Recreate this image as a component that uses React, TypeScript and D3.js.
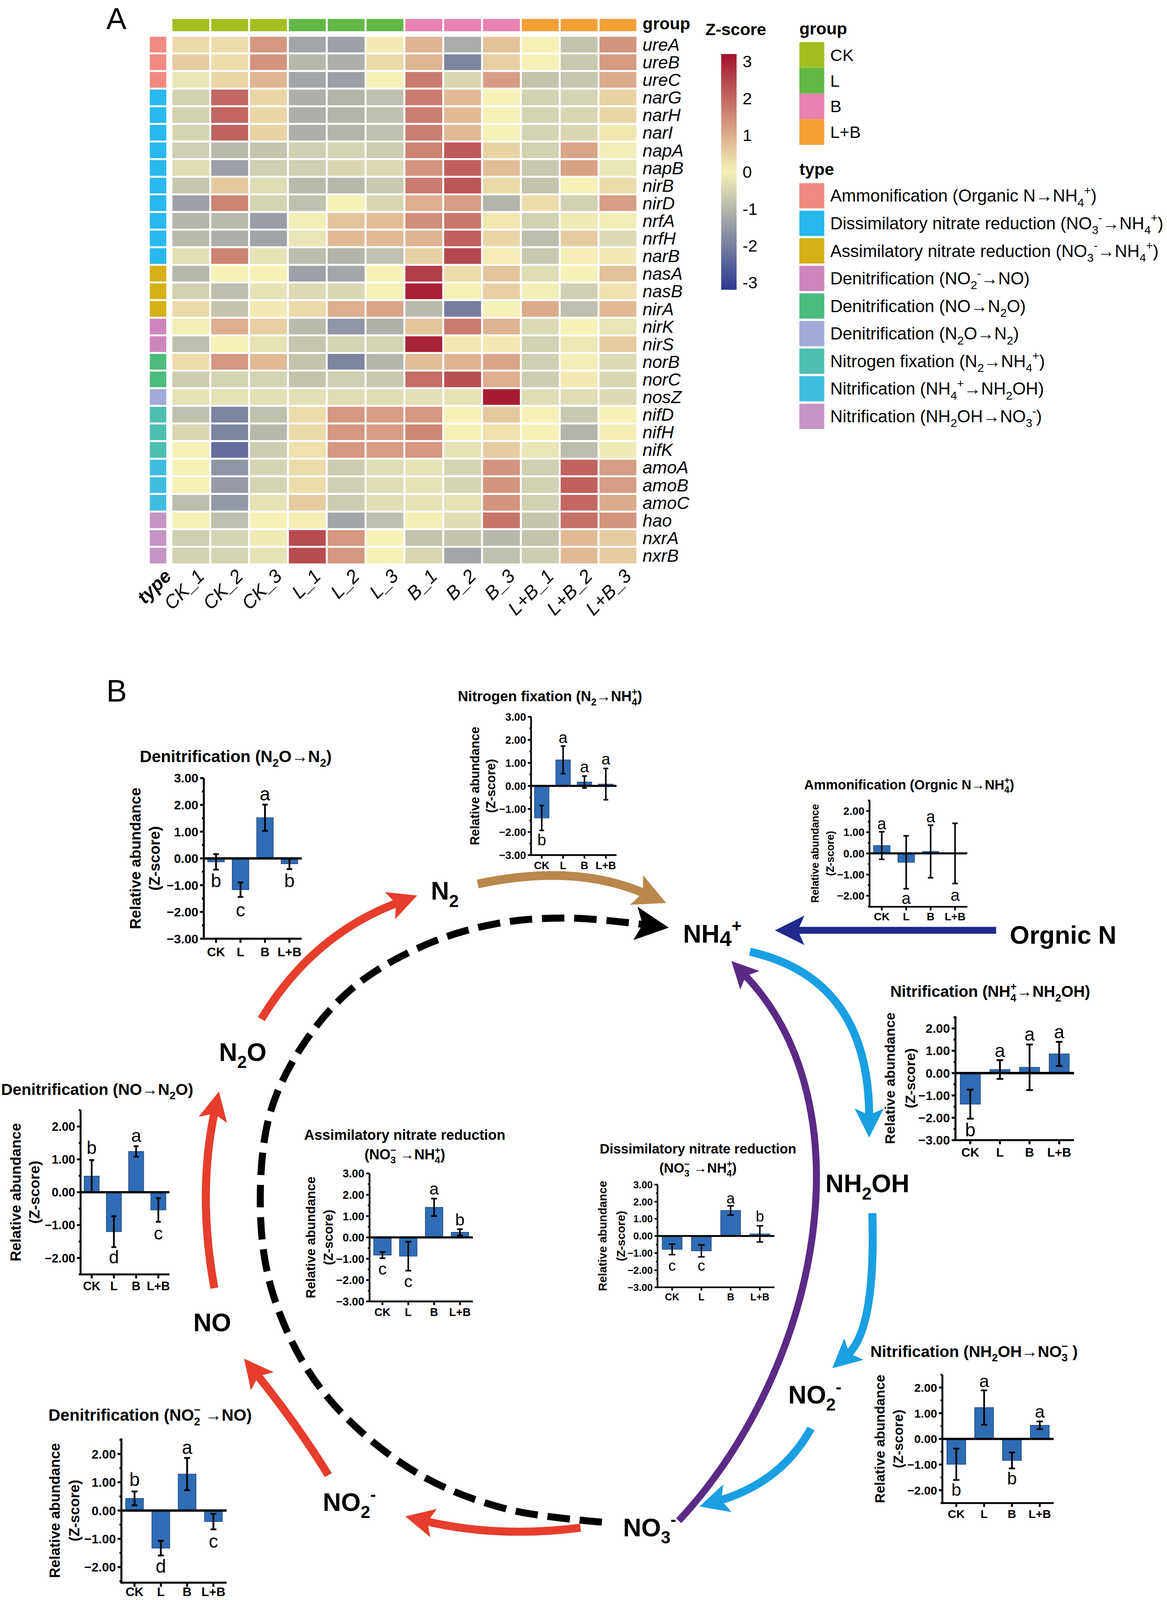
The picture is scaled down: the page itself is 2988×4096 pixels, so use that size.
import React from 'react';
import * as d3 from 'd3';

const FONT = "'Liberation Sans', Arial, Helvetica, sans-serif";

type Seg = [string, string?];

// ---------------- heatmap (panel A) ----------------
const samples = ['CK_1', 'CK_2', 'CK_3', 'L_1', 'L_2', 'L_3', 'B_1', 'B_2', 'B_3', 'L+B_1', 'L+B_2', 'L+B_3'];
const sampleGroup = [0, 0, 0, 1, 1, 1, 2, 2, 2, 3, 3, 3];
const groupNames = ['CK', 'L', 'B', 'L+B'];
const groupColors = ['#a3bf1f', '#62b845', '#e882b0', '#f4a037'];
const genes = ['ureA', 'ureB', 'ureC', 'narG', 'narH', 'narI', 'napA', 'napB', 'nirB', 'nirD', 'nrfA', 'nrfH', 'narB',
  'nasA', 'nasB', 'nirA', 'nirK', 'nirS', 'norB', 'norC', 'nosZ', 'nifD', 'nifH', 'nifK', 'amoA', 'amoB', 'amoC',
  'hao', 'nxrA', 'nxrB'];
const geneType = [0, 0, 0, 1, 1, 1, 1, 1, 1, 1, 1, 1, 1, 2, 2, 2, 3, 3, 4, 4, 5, 6, 6, 6, 7, 7, 7, 8, 8, 8];
const typeColors = ['#f08a80', '#27b8ec', '#d4b117', '#cc86bd', '#4dbb7b', '#a2a9d6', '#4dbfb1', '#40bee0', '#c594c5'];
const typeLabels: Seg[][] = [
  [['Ammonification (Organic N\u2192NH'], ['4', 'sub'], ['+', 'sup'], [')']],
  [['Dissimilatory nitrate reduction (NO'], ['3', 'sub'], ['-', 'sup'], ['\u2192NH'], ['4', 'sub'], ['+', 'sup'], [')']],
  [['Assimilatory nitrate reduction (NO'], ['3', 'sub'], ['-', 'sup'], ['\u2192NH'], ['4', 'sub'], ['+', 'sup'], [')']],
  [['Denitrification (NO'], ['2', 'sub'], ['-', 'sup'], ['\u2192NO)']],
  [['Denitrification (NO\u2192N'], ['2', 'sub'], ['O)']],
  [['Denitrification (N'], ['2', 'sub'], ['O\u2192N'], ['2', 'sub'], [')']],
  [['Nitrogen fixation (N'], ['2', 'sub'], ['\u2192NH'], ['4', 'sub'], ['+', 'sup'], [')']],
  [['Nitrification (NH'], ['4', 'sub'], ['+', 'sup'], ['\u2192NH'], ['2', 'sub'], ['OH)']],
  [['Nitrification (NH'], ['2', 'sub'], ['OH\u2192NO'], ['3', 'sub'], ['-', 'sup'], [')']],
];
// rows = genes, columns = samples
const zScore = [
  [0.35, 0.3, 1.3, -1.3, -1.4, 0.1, 0.9, -1.2, 0.7, 0.0, -0.8, 1.35],
  [0.55, 0.3, 1.35, -1.0, -1.15, 0.35, 0.85, -1.9, 0.5, 0.0, -0.7, 1.25],
  [-0.2, 0.4, 0.85, -1.3, -1.4, 0.0, 1.7, -0.45, 1.2, -0.8, -0.75, 1.0],
  [-0.55, 2.0, 0.4, -1.15, -1.05, -0.85, 1.7, 0.8, 0.0, -0.55, -0.5, 0.45],
  [-0.55, 2.0, 0.4, -1.15, -1.05, -0.85, 1.65, 0.8, 0.0, -0.5, -0.45, 0.4],
  [-0.5, 2.05, 0.45, -1.15, -1.05, -0.85, 1.65, 0.8, 0.0, -0.5, -0.45, 0.15],
  [-0.6, -0.95, -0.8, -0.6, -0.5, -0.65, 1.6, 2.2, 0.45, -0.55, 1.1, -0.05],
  [-0.35, -1.4, -0.6, -0.6, -0.45, -0.4, 1.35, 2.1, 0.75, -0.7, 1.15, -0.2],
  [-0.75, 0.6, -0.35, -0.95, -1.0, -0.7, 1.7, 2.25, 0.35, -0.8, 0.0, 0.3],
  [-1.4, 1.6, -0.5, -0.85, 0.0, -0.45, 0.95, 1.2, -1.05, 0.3, -0.55, 1.2],
  [-1.05, -0.95, -1.45, -0.05, 0.65, 0.75, 1.45, 1.75, 0.15, -0.55, -0.1, -0.05],
  [-0.95, -1.15, -1.35, -0.2, 0.8, 0.8, 0.9, 2.1, 0.4, -0.9, 0.55, -0.4],
  [-0.3, 1.6, -0.25, -0.9, -1.05, -0.85, 0.45, 2.45, 0.05, -0.7, 0.05, 0.1],
  [-1.0, 0.0, 0.0, -1.4, -1.3, 0.0, 2.6, 0.3, 0.65, -0.35, 0.0, 0.7],
  [-0.55, -0.9, -0.25, -0.4, -0.45, 0.0, 3.0, 0.0, 0.5, -0.05, -0.6, 0.25],
  [0.35, -0.8, 0.1, 0.35, 0.95, 1.1, -0.95, -2.0, 0.0, 1.0, -0.85, 0.8],
  [-0.05, 0.95, 0.5, -0.95, -1.6, -1.1, 0.65, 1.7, 0.9, -0.4, 0.0, -0.2],
  [-0.85, 0.0, -0.25, -0.75, -0.5, -0.5, 3.0, 0.1, 0.1, -0.55, -0.15, 0.55],
  [0.3, 1.3, 0.8, -0.8, -1.9, -1.05, 0.75, 0.9, 1.1, -0.6, -0.05, -0.4],
  [-0.65, -0.5, -0.5, -0.8, -0.6, -0.7, 1.9, 2.35, 0.95, -0.65, 0.1, -0.45],
  [-0.25, -0.25, -0.3, -0.3, -0.35, -0.35, -0.3, -0.25, 3.1, -0.35, -0.35, -0.4],
  [-0.85, -1.9, -0.85, 0.3, 1.3, 1.2, 1.3, 0.0, 0.6, 0.0, -0.7, 0.0],
  [-0.45, -1.9, -1.0, 0.35, 1.3, 1.2, 1.55, 0.0, 0.25, 0.0, -1.05, 0.05],
  [0.0, -2.3, -0.65, 0.25, 1.3, 1.2, 1.3, -0.25, 0.55, -0.2, -0.9, -0.1],
  [0.0, -1.6, -0.5, 0.3, -0.65, -0.35, -0.25, -0.5, 1.35, -0.6, 2.05, 1.2],
  [0.0, -1.5, -0.5, 0.3, -0.6, -0.35, -0.25, -0.5, 1.35, -0.55, 2.1, 1.2],
  [-0.9, -1.55, -0.25, 0.55, -0.65, -0.35, -0.25, -0.25, 1.35, -0.55, 2.0, 1.0],
  [0.0, -0.85, 0.0, 0.05, -1.3, -0.85, -0.05, -0.35, 1.8, -0.75, 1.85, 1.35],
  [-0.6, -0.5, -0.1, 2.4, 1.3, 0.0, -0.8, -0.8, -1.0, -0.8, 0.8, 0.55],
  [-0.55, -0.5, -0.25, 2.4, 1.3, 0.0, -0.45, -1.3, -0.85, -0.65, 0.8, 0.55],
];
const zTicks = [3, 2, 1, 0, -1, -2, -3];

// ---------------- bar charts (panel B) ----------------
const treatments = ['CK', 'L', 'B', 'L+B'];

const n2oMean = [-0.13, -1.17, 1.52, -0.2];
const n2oErr = [0.29, 0.27, 0.49, 0.2];
const n2oLetters = ['b', 'c', 'a', 'b'];
const n2oLetterAt = [-0.86, -1.95, 2.38, -0.86];

const nfixMean = [-1.39, 1.13, 0.17, 0.08];
const nfixErr = [0.54, 0.6, 0.26, 0.68];
const nfixLetters = ['b', 'a', 'a', 'a'];
const nfixLetterAt = [-2.36, 2.07, 0.8, 1.14];

const ammoMean = [0.37, -0.42, 0.09, 0.0];
const ammoErr = [0.65, 1.25, 1.24, 1.42];
const ammoLetters = ['a', 'a', 'a', 'a'];
const ammoLetterAt = [1.37, -2.16, 1.7, -2.0];

const nitAMean = [-1.39, 0.16, 0.26, 0.86];
const nitAErr = [0.65, 0.42, 1.02, 0.54];
const nitALetters = ['b', 'a', 'a', 'a'];
const nitALetterAt = [-2.57, 0.97, 1.7, 1.81];

const noMean = [0.49, -1.2, 1.24, -0.54];
const noErr = [0.49, 0.47, 0.16, 0.36];
const noLetters = ['b', 'd', 'a', 'c'];
const noLetterAt = [1.33, -2.0, 1.7, -1.27];

const assimMean = [-0.83, -0.88, 1.41, 0.24];
const assimErr = [0.145, 0.68, 0.41, 0.145];
const assimLetters = ['c', 'c', 'a', 'b'];
const assimLetterAt = [-1.51, -2.09, 2.24, 0.8];

const dissimMean = [-0.78, -0.87, 1.49, 0.12];
const dissimErr = [0.31, 0.35, 0.27, 0.47];
const dissimLetters = ['c', 'c', 'a', 'b'];
const dissimLetterAt = [-1.77, -1.77, 2.17, 1.12];

const nitBMean = [-0.99, 1.22, -0.84, 0.53];
const nitBErr = [0.61, 0.67, 0.31, 0.15];
const nitBLetters = ['b', 'a', 'b', 'a'];
const nitBLetterAt = [-2.0, 2.22, -1.56, 1.04];

const no2Mean = [0.43, -1.33, 1.29, -0.39];
const no2Err = [0.245, 0.26, 0.57, 0.275];
const no2Letters = ['b', 'd', 'a', 'c'];
const no2LetterAt = [1.07, -2.0, 2.2, -1.12];

// rich text: sub / sup / stk (superscript stacked over preceding subscript) / lsub (large subscript)
function spans(segs: Seg[], size: number) {
  let shift = 0;
  return segs.map(([t, k], i) => {
    const target = k === 'sub' ? size * 0.28 : k === 'lsub' ? size * 0.14 : k ? -size * 0.42 : 0;
    const dy = target - shift;
    shift = target;
    const fs = k === 'lsub' ? size * 0.86 : k ? size * 0.68 : size;
    const dx = k === 'stk' ? -size * 0.68 * 0.556 : 0;
    return <tspan key={i} dy={dy} dx={dx} fontSize={fs}>{t}</tspan>;
  });
}

const panels = [
  { key: 'n2o', mean: n2oMean, err: n2oErr, letters: n2oLetters, letterAt: n2oLetterAt,
    title: [[['Denitrification (N'], ['2', 'sub'], ['O\u2192N'], ['2', 'sub'], [')']]],
    tx: 672, ty: [2173], tSize: 47, ax: 581, xEnd: 860, y0: 2447, unit: 76.3, yMin: -3, yMax: 3,
    tick: 35.6, yt: 43, ytOff: [-196, -141], labOff: 1.4 },
  { key: 'nfix', mean: nfixMean, err: nfixErr, letters: nfixLetters, letterAt: nfixLetterAt,
    title: [[['Nitrogen fixation (N'], ['2', 'sub'], ['\u2192NH'], ['4', 'sub'], ['+', 'stk'], [')']]],
    tx: 1568, ty: [1999], tSize: 41, ax: 1514, xEnd: 1757.6, y0: 2240.4, unit: 65.7, yMin: -3, yMax: 3,
    tick: 30.5, yt: 36, ytOff: [-161, -115], labOff: 1.32 },
  { key: 'ammo', mean: ammoMean, err: ammoErr, letters: ammoLetters, letterAt: ammoLetterAt,
    title: [[['Ammonification (Orgnic N\u2192NH'], ['4', 'sub'], ['+', 'stk'], [')']]],
    tx: 2592, ty: [2250], tSize: 38.5, ax: 2479, xEnd: 2757.7, y0: 2432.7, unit: 60.4, yMin: -2.52, yMax: 2.52,
    tick: 31, yt: 30, ytOff: [-156, -112], labOff: 1.25 },
  { key: 'nitA', mean: nitAMean, err: nitAErr, letters: nitALetters, letterAt: nitALetterAt,
    title: [[['Nitrification (NH'], ['4', 'sub'], ['+', 'stk'], ['\u2192NH'], ['2', 'sub'], ['OH)']]],
    tx: 2823, ty: [2842], tSize: 45, ax: 2724, xEnd: 3062, y0: 3059, unit: 63.7, yMin: -3, yMax: 2.54,
    tick: 35.7, yt: 40, ytOff: [-187, -130], labOff: 1.32 },
  { key: 'no', mean: noMean, err: noErr, letters: noLetters, letterAt: noLetterAt,
    title: [[['Denitrification (NO\u2192N'], ['2', 'sub'], ['O)']]],
    tx: 277, ty: [3121], tSize: 45.5, ax: 229.6, xEnd: 483, y0: 3398.6, unit: 93.7, yMin: -2.5, yMax: 2.5,
    tick: 34.4, yt: 42, ytOff: [-186, -132], labOff: 1.3 },
  { key: 'assim', mean: assimMean, err: assimErr, letters: assimLetters, letterAt: assimLetterAt,
    title: [[['Assimilatory nitrate reduction']],
      [['(NO'], ['3', 'sub'], ['\u2212', 'stk'], [' \u2192NH'], ['4', 'sub'], ['+', 'stk'], [')']]],
    tx: 1154, ty: [3249, 3305], tSize: 40.5, ax: 1053.5, xEnd: 1348, y0: 3527.4, unit: 60.8, yMin: -3, yMax: 3,
    tick: 32, yt: 37, ytOff: [-168, -118], labOff: 1.3 },
  { key: 'dissim', mean: dissimMean, err: dissimErr, letters: dissimLetters, letterAt: dissimLetterAt,
    title: [[['Dissimilatory nitrate reduction']],
      [['(NO'], ['3', 'sub'], ['\u2212', 'stk'], [' \u2192NH'], ['4', 'sub'], ['+', 'stk'], [')']]],
    tx: 1990, ty: [3288, 3343], tSize: 38.8, ax: 1874.5, xEnd: 2208, y0: 3523.3, unit: 48.8, yMin: -3, yMax: 3,
    tick: 28.5, yt: 33.5, ytOff: [-157, -105], labOff: 1.3 },
  { key: 'nitB', mean: nitBMean, err: nitBErr, letters: nitBLetters, letterAt: nitBLetterAt,
    title: [[['Nitrification (NH'], ['2', 'sub'], ['OH\u2192NO'], ['3', 'sub'], ['\u2212', 'stk'], [' )']]],
    tx: 2777, ty: [3868], tSize: 45.5, ax: 2686.7, xEnd: 3004, y0: 4101.7, unit: 73.2, yMin: -2.5, yMax: 2.5,
    tick: 33.5, yt: 39, ytOff: [-179, -126], labOff: 1.28 },
  { key: 'no2', mean: no2Mean, err: no2Err, letters: no2Letters, letterAt: no2LetterAt,
    title: [[['Denitrification (NO'], ['2', 'sub'], ['\u2212', 'stk'], [' \u2192NO)']]],
    tx: 428, ty: [4050], tSize: 47, ax: 346, xEnd: 645.8, y0: 4306, unit: 80.6, yMin: -2.55, yMax: 2.55,
    tick: 35.6, yt: 41, ytOff: [-190, -135], labOff: 1.08 },
];

function BarPanel({ p }: { p: any }) {
  const x = d3.scaleBand().domain(treatments).range([p.ax, p.xEnd]).paddingInner(0.32).paddingOuter(0.16);
  const y = d3.scaleLinear().domain([0, 1]).range([p.y0, p.y0 - p.unit]);
  const sw = p.tick * 0.16;
  const majors = d3.range(Math.ceil(p.yMin - 1e-6), Math.floor(p.yMax + 1e-6) + 1);
  const minors = d3.range(Math.ceil(p.yMin * 2 - 1e-6), Math.floor(p.yMax * 2 + 1e-6) + 1)
    .map((v) => v / 2).filter((v) => v % 1 !== 0);
  const tl = p.tick * 0.3;
  const mid = (y(p.yMin) + y(p.yMax)) / 2;
  const bw = x.bandwidth();
  const cap = bw * 0.33;
  const fmt = (v: number) => (v < 0 ? '\u2212' : '') + Math.abs(v).toFixed(2);
  const ls = p.tick * 1.5;
  const bottom = y(p.yMin);
  return (
    <g fontFamily={FONT}>
      {p.title.map((line: Seg[], li: number) => (
        <text key={li} x={p.tx} y={p.ty[li]} textAnchor="middle" fontWeight="bold" fontSize={p.tSize}
          style={{ whiteSpace: 'pre' }}>{spans(line, p.tSize)}</text>
      ))}
      {treatments.map((t, i) => {
        const m = p.mean[i];
        return <rect key={t} x={x(t)} y={y(Math.max(m, 0))} width={bw} height={Math.abs(y(m) - y(0))}
          fill="#2e6cb5" stroke="#1b3a6b" strokeWidth={1.5} />;
      })}
      {treatments.map((t, i) => {
        const cx = (x(t) as number) + bw / 2;
        const lo = y(p.mean[i] - p.err[i]);
        const hi = y(p.mean[i] + p.err[i]);
        return (
          <g key={t} stroke="#000" strokeWidth={sw * 0.9}>
            <line x1={cx} x2={cx} y1={lo} y2={hi} />
            <line x1={cx - cap / 2} x2={cx + cap / 2} y1={lo} y2={lo} />
            <line x1={cx - cap / 2} x2={cx + cap / 2} y1={hi} y2={hi} />
          </g>
        );
      })}
      <line x1={p.ax} x2={p.xEnd} y1={y(0)} y2={y(0)} stroke="#000" strokeWidth={sw * 1.2} />
      <line x1={p.ax} x2={p.xEnd} y1={bottom} y2={bottom} stroke="#000" strokeWidth={sw} />
      <line x1={p.ax} x2={p.ax} y1={bottom + sw / 2} y2={y(p.yMax)} stroke="#000" strokeWidth={sw} />
      {majors.map((v) => (
        <g key={v}>
          <line x1={p.ax - tl} x2={p.ax} y1={y(v)} y2={y(v)} stroke="#000" strokeWidth={sw} />
          <text x={p.ax - tl - 5} y={y(v) + p.tick * 0.36} textAnchor="end" fontWeight="bold"
            fontSize={p.tick}>{fmt(v)}</text>
        </g>
      ))}
      {minors.map((v) => (
        <line key={v} x1={p.ax - tl * 0.5} x2={p.ax} y1={y(v)} y2={y(v)} stroke="#000" strokeWidth={sw} />
      ))}
      {treatments.map((t) => {
        const cx = (x(t) as number) + bw / 2;
        return (
          <g key={t}>
            <line x1={cx} x2={cx} y1={bottom} y2={bottom + tl * 1.1} stroke="#000" strokeWidth={sw} />
            <text x={cx} y={bottom + p.tick * p.labOff} textAnchor="middle" fontWeight="bold"
              fontSize={p.tick}>{t}</text>
          </g>
        );
      })}
      {treatments.map((t, i) => (
        <text key={t} x={(x(t) as number) + bw / 2} y={y(p.letterAt[i]) + ls * 0.3} textAnchor="middle"
          fontSize={ls}>{p.letters[i]}</text>
      ))}
      <g fontWeight="bold" fontSize={p.yt} textAnchor="middle">
        <text transform={`translate(${p.ax + p.ytOff[0]},${mid}) rotate(-90)`} dy="0.36em">Relative abundance</text>
        <text transform={`translate(${p.ax + p.ytOff[1]},${mid}) rotate(-90)`} dy="0.36em">(Z-score)</text>
      </g>
    </g>
  );
}

// ---------------- cycle diagram ----------------
const q = (a: number[]) => {
  const p = d3.path();
  p.moveTo(a[0], a[1]);
  p.quadraticCurveTo(a[2], a[3], a[4], a[5]);
  return p.toString();
};
const c = (a: number[]) => {
  const p = d3.path();
  p.moveTo(a[0], a[1]);
  p.bezierCurveTo(a[2], a[3], a[4], a[5], a[6], a[7]);
  return p.toString();
};
const dashedPts: [number, number][] = [[1716, 4339], [1454, 4304], [1221, 4217], [1018, 4071], [872, 3897],
  [771, 3664], [742, 3431], [771, 3170], [872, 2966], [1018, 2806], [1221, 2690], [1420, 2632], [1620, 2617],
  [1840, 2636]];

const RED = '#e63d2c';
const BLUE = '#1a9fe3';
const arrows = [
  { id: 'brown', color: '#b8884c', sw: 25, mw: 3.9, mh: 3.7, d: q([1362, 2520, 1640, 2460, 1840, 2548]) },
  { id: 'navy', color: '#1f2a8c', sw: 20, mw: 4.3, mh: 4.2, d: q([2840, 2652, 2550, 2652, 2268, 2652]) },
  { id: 'r1', color: RED, sw: 23, mw: 3.9, mh: 3.6, d: q([745, 2905, 890, 2665, 1135, 2573]) },
  { id: 'r2', color: RED, sw: 23, mw: 3.9, mh: 3.6, d: q([611, 3672, 562, 3400, 612, 3168]) },
  { id: 'r3', color: RED, sw: 23, mw: 3.9, mh: 3.6, d: q([936, 4205, 850, 4065, 732, 3918]) },
  { id: 'r4', color: RED, sw: 23, mw: 3.9, mh: 3.6, d: q([1655, 4355, 1420, 4385, 1212, 4336]) },
  { id: 'b1', color: BLUE, sw: 23, mw: 3.9, mh: 3.6, d: q([2138, 2713, 2478, 2790, 2478, 3185]) },
  { id: 'b2', color: BLUE, sw: 23, mw: 3.9, mh: 3.6, d: q([2487, 3458, 2497, 3790, 2416, 3862]) },
  { id: 'b3', color: BLUE, sw: 23, mw: 3.9, mh: 3.6, d: q([2312, 4072, 2228, 4225, 2050, 4278]) },
  { id: 'pur', color: '#5b2a86', sw: 20, mw: 4.3, mh: 3.8, d: c([1935, 4335, 2340, 3900, 2480, 3150, 2122, 2778]) },
];

const nodes: { segs: Seg[]; x: number; y: number }[] = [
  { segs: [['N'], ['2', 'sub']], x: 1268, y: 2565 },
  { segs: [['NH'], ['4', 'lsub'], ['+', 'sup']], x: 2031, y: 2687 },
  { segs: [['Orgnic N']], x: 3031, y: 2690 },
  { segs: [['NH'], ['2', 'sub'], ['OH']], x: 2473, y: 3399 },
  { segs: [['NO'], ['2', 'sub'], ['-', 'sup']], x: 2323, y: 4001 },
  { segs: [['NO'], ['3', 'sub'], ['-', 'sup']], x: 1852, y: 4379 },
  { segs: [['NO'], ['2', 'sub'], ['-', 'sup']], x: 996, y: 4307 },
  { segs: [['NO']], x: 605, y: 3795 },
  { segs: [['N'], ['2', 'sub'], ['O']], x: 692, y: 3024 },
];

export default function App() {
  // heatmap geometry
  const xCol = d3.scaleBand().domain(samples).range([488.6, 488.6 + 12 * 110.7]).paddingInner(0.05).paddingOuter(0.025);
  const yRow = d3.scaleBand().domain(genes).range([102, 102 + 30 * 50.23]).paddingInner(0.11).paddingOuter(0.055);
  const color = d3.scaleLinear<string>().domain([-3.2, 0, 3.2]).range(['#2b3990', '#f5f1b8', '#a3142c'])
    .interpolate(d3.interpolateRgb);
  const cb = d3.scaleLinear().domain([-3.2, 3.2]).range([826, 154]);
  const gradStops = d3.range(0, 1.0001, 0.05);
  const lineGen = d3.line().curve(d3.curveCatmullRom.alpha(0.5));
  const fs = 50;
  const xl = 54;

  return (
    <svg width={2988} height={4096} viewBox="0 0 3327 4561" style={{ position: 'absolute', left: 0, top: 0, display: 'block' }}
      fontFamily={FONT}>
      <defs>
        <linearGradient id="zgrad" x1="0" y1="1" x2="0" y2="0">
          {gradStops.map((t) => (
            <stop key={t} offset={t} stopColor={color(-3.2 + 6.4 * t)} />
          ))}
        </linearGradient>
        {arrows.map((a) => (
          <marker key={a.id} id={`m-${a.id}`} viewBox="0 0 10 10" refX={3} refY={5} markerWidth={a.mw}
            markerHeight={a.mh} orient="auto" markerUnits="strokeWidth">
            <path d="M0,0 L10,5 L0,10 L2.2,5 Z" fill={a.color} />
          </marker>
        ))}
        <marker id="m-black" viewBox="0 0 10 10" refX={3} refY={5} markerWidth={5} markerHeight={4.8}
          orient="auto" markerUnits="strokeWidth">
          <path d="M0,0 L10,5 L0,10 L2.2,5 Z" fill="#000" />
        </marker>
      </defs>
      <rect x={0} y={0} width={3327} height={4561} fill="#fff" />

      {/* ---------- Panel A ---------- */}
      <text x={303} y={84} fontSize={86}>A</text>

      {samples.map((s, j) => (
        <rect key={s} x={xCol(s)} y={54} width={xCol.bandwidth()} height={35} fill={groupColors[sampleGroup[j]]} />
      ))}
      <text x={1832} y={83} fontWeight="bold" fontSize={fs - 2}>group</text>

      {genes.map((g, i) => (
        <g key={g}>
          <rect x={427} y={yRow(g)} width={47} height={yRow.bandwidth()} fill={typeColors[geneType[i]]} />
          {samples.map((s, j) => (
            <rect key={s} x={xCol(s)} y={yRow(g)} width={xCol.bandwidth()} height={yRow.bandwidth()}
              fill={color(zScore[i][j])} />
          ))}
          <text x={1832} y={(yRow(g) as number) + yRow.bandwidth() / 2 + fs * 0.35} fontStyle="italic"
            fontSize={fs}>{g}</text>
        </g>
      ))}

      {samples.map((s) => (
        <text key={s} transform={`translate(${(xCol(s) as number) + xCol.bandwidth() / 2 + 14},1618) rotate(-45)`}
          textAnchor="end" dominantBaseline="hanging" fontStyle="italic" fontSize={xl}>{s}</text>
      ))}
      <text transform={`translate(${450 + 14},1618) rotate(-45)`} textAnchor="end" dominantBaseline="hanging"
        fontStyle="italic" fontWeight="bold" fontSize={xl}>type</text>

      {/* colour key */}
      <text x={2011} y={100} fontWeight="bold" fontSize={48}>Z-score</text>
      <rect x={2056} y={154} width={44} height={672} fill="url(#zgrad)" />
      {zTicks.map((v) => (
        <text key={v} x={2117} y={cb(v) + 17} fontSize={48}>{v}</text>
      ))}

      {/* group legend */}
      <text x={2279} y={98} fontWeight="bold" fontSize={48}>group</text>
      {groupNames.map((g, i) => (
        <g key={g}>
          <rect x={2279} y={120 + i * 73.25} width={71} height={73.25} fill={groupColors[i]} />
          <text x={2367} y={120 + i * 73.25 + 36.6 + 17} fontSize={48}>{g}</text>
        </g>
      ))}

      {/* type legend */}
      <text x={2279} y={499} fontWeight="bold" fontSize={48}>type</text>
      {typeLabels.map((segs, i) => (
        <g key={i}>
          <rect x={2279} y={522 + i * 78.6} width={71} height={72} fill={typeColors[i]} />
          <text x={2367} y={522 + i * 78.6 + 36 + 17} fontSize={49} style={{ whiteSpace: 'pre' }}>{spans(segs, 49)}</text>
        </g>
      ))}

      {/* ---------- Panel B ---------- */}
      <text x={303} y={2000} fontSize={88}>B</text>

      <path d={lineGen(dashedPts) as string} fill="none" stroke="#000" strokeWidth={20} strokeDasharray="64 28"
        markerEnd="url(#m-black)" />
      {arrows.map((a) => (
        <path key={a.id} d={a.d} fill="none" stroke={a.color} strokeWidth={a.sw} markerEnd={`url(#m-${a.id})`} />
      ))}

      {nodes.map((n, i) => (
        <text key={i} x={n.x} y={n.y} textAnchor="middle" fontWeight="bold" fontSize={72}
          style={{ whiteSpace: 'pre' }}>{spans(n.segs, 72)}</text>
      ))}

      {panels.map((p) => <BarPanel key={p.key} p={p} />)}
    </svg>
  );
}
